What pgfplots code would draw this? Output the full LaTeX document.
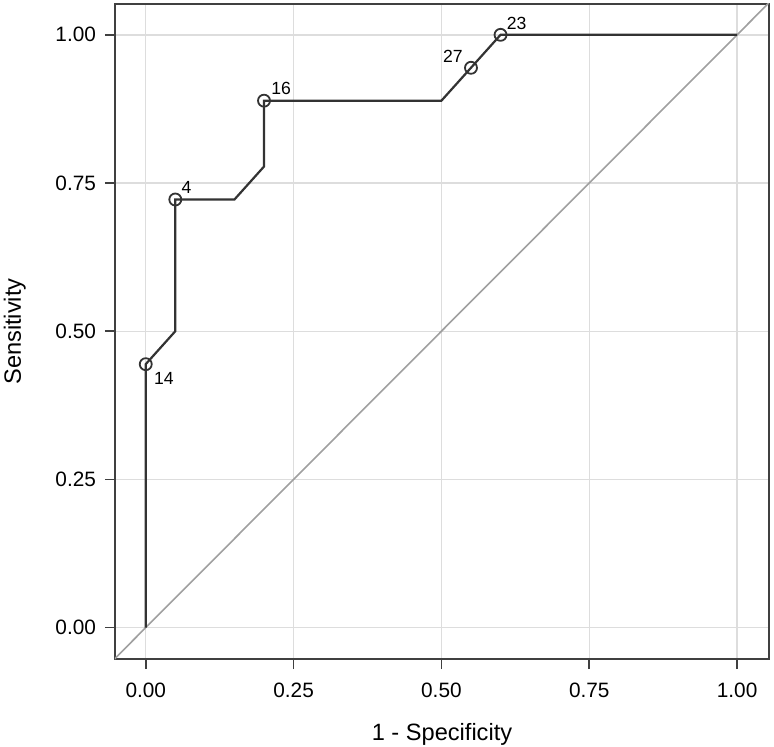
\documentclass[border=0pt]{standalone}
\usepackage{fontspec}
\setmainfont{Liberation Sans}
\usepackage{pgfplots}
\pgfplotsset{compat=1.18}
\usetikzlibrary{calc}

\definecolor{curve}{HTML}{333333}
\definecolor{diag}{HTML}{A0A0A0}
\definecolor{gridc}{HTML}{DDDDDD}
\definecolor{frame}{HTML}{404040}

\begin{document}
\begin{tikzpicture}
\begin{axis}[
    scale only axis,
    width=327pt, height=327.5pt,
    xmin=-0.052, xmax=1.054,
    ymin=-0.053, ymax=1.052,
    xtick={0,0.25,0.5,0.75,1},
    ytick={0,0.25,0.5,0.75,1},
    xticklabels={0.00,0.25,0.50,0.75,1.00},
    yticklabels={0.00,0.25,0.50,0.75,1.00},
    tick align=outside,
    major tick length=5pt,
    tick style={frame, line width=0.9pt},
    xtick pos=bottom, ytick pos=left,
    axis line style={frame, line width=1pt},
    grid=major,
    major grid style={gridc, line width=0.7pt},
    tick label style={font=\fontsize{10.4}{12}\selectfont},
    xticklabel style={yshift=-3.5pt},
    yticklabel style={xshift=-1pt},
    xlabel={1 - Specificity},
    ylabel={Sensitivity},
    label style={font=\fontsize{11.8}{13}\selectfont},
    xlabel style={yshift=-6pt},
    ylabel style={yshift=8pt},
    clip=true,
]
% reference diagonal
\addplot[diag, line width=0.8pt] coordinates {(-0.06,-0.06) (1.06,1.06)};
% ROC curve
\addplot[curve, line width=1.1pt] coordinates {
    (0,0) (0,0.4444) (0.05,0.5) (0.05,0.7222) (0.15,0.7222)
    (0.2,0.7778) (0.2,0.8889) (0.5,0.8889) (0.55,0.9444)
    (0.6,1.0) (1.0,1.0)
};
% labelled cut points
\addplot[only marks, mark=o, mark size=3pt, curve, line width=0.9pt] coordinates {
    (0,0.4444) (0.05,0.7222) (0.2,0.8889) (0.55,0.9444) (0.6,1.0)
};
\node[font=\fontsize{8.8}{10}\selectfont, anchor=north west, inner sep=0pt] at ($(axis cs:0,0.4444)+(4pt,-4pt)$) {14};
\node[font=\fontsize{8.8}{10}\selectfont, anchor=south west, inner sep=0pt] at ($(axis cs:0.05,0.7222)+(3pt,3pt)$) {4};
\node[font=\fontsize{8.8}{10}\selectfont, anchor=south west, inner sep=0pt] at ($(axis cs:0.2,0.8889)+(3.5pt,3pt)$) {16};
\node[font=\fontsize{8.8}{10}\selectfont, anchor=south west, inner sep=0pt] at ($(axis cs:0.6,1.0)+(3pt,2.5pt)$) {23};
\node[font=\fontsize{8.8}{10}\selectfont, anchor=south east, inner sep=0pt] at ($(axis cs:0.55,0.9444)+(-4pt,2.5pt)$) {27};
\end{axis}
\pgfresetboundingbox
\path ($(current axis.south west)+(-57.5pt,-43.5pt)$) rectangle ($(current axis.north east)+(2.5pt,2pt)$);
\end{tikzpicture}
\end{document}
